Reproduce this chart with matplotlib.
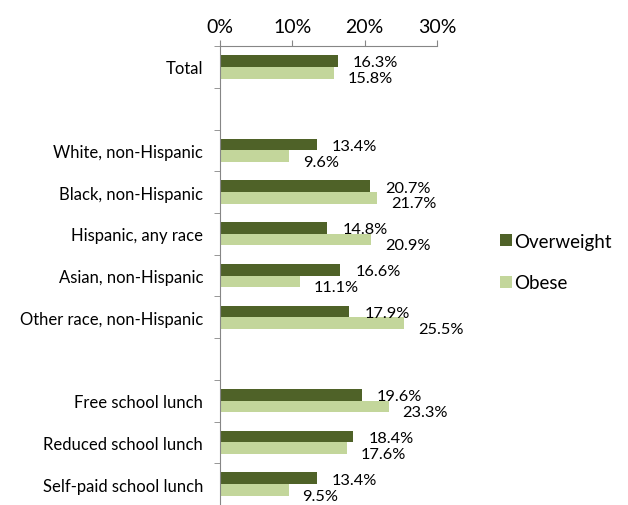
import matplotlib.pyplot as plt
import numpy as np
from matplotlib.ticker import FuncFormatter

# groups from top to bottom, empty strings are spacer rows
categories = ['Total', '', 'White, non-Hispanic', 'Black, non-Hispanic',
              'Hispanic, any race', 'Asian, non-Hispanic',
              'Other race, non-Hispanic', '', 'Free school lunch',
              'Reduced school lunch', 'Self-paid school lunch']
overweight = [16.3, None, 13.4, 20.7, 14.8, 16.6, 17.9, None, 19.6, 18.4, 13.4]
obese = [15.8, None, 9.6, 21.7, 20.9, 11.1, 25.5, None, 23.3, 17.6, 9.5]
x_ticks = [0, 10, 20, 30]

dark = '#4F6228'
light = '#C3D69B'
grey = '#868686'
plt.rcParams['font.family'] = ['Lato', 'DejaVu Sans']

fig = plt.figure(figsize=(6.28, 5.06), dpi=100)
ax = fig.add_axes([0.350, 0.0, 0.346, 0.907])

y = np.arange(len(categories))
h = 0.28
for i in range(len(categories)):
    if overweight[i] is None:
        continue
    ax.barh(y[i] - h / 2, overweight[i], height=h, color=dark,
            label='Overweight' if i == 0 else None)
    ax.barh(y[i] + h / 2, obese[i], height=h, color=light,
            label='Obese' if i == 0 else None)
    ax.annotate(f'{overweight[i]:.1f}%', (overweight[i], y[i] - h / 2),
                xytext=(11, -1), textcoords='offset points',
                ha='left', va='center', fontsize=11.8)
    ax.annotate(f'{obese[i]:.1f}%', (obese[i], y[i] + h / 2),
                xytext=(10, -4), textcoords='offset points',
                ha='left', va='center', fontsize=11.8)

ax.set_xlim(0, 30)
ax.set_ylim(len(categories) - 0.5, -0.5)
ax.set_xticks(x_ticks)
ax.xaxis.set_major_formatter(FuncFormatter(lambda v, p: f'{v:.0f}%'))
ax.xaxis.tick_top()
ax.tick_params(axis='x', direction='out', length=4, color=grey,
               labelsize=14, pad=4)

ax.set_yticks(y)
ax.set_yticklabels(categories)
ax.set_yticks(np.arange(-0.5, len(categories), 1), minor=True)
ax.tick_params(axis='y', which='major', length=0, labelsize=12, pad=12)
ax.tick_params(axis='y', which='minor', direction='out', length=4, color=grey)

for side in ['right', 'bottom']:
    ax.spines[side].set_visible(False)
ax.spines['top'].set_color(grey)
ax.spines['left'].set_color(grey)

handles, labels = ax.get_legend_handles_labels()
fig.legend(handles, labels, loc='center left', bbox_to_anchor=(0.77, 0.48),
           frameon=False, fontsize=13.5, handlelength=0.6, handleheight=0.6,
           handletextpad=0.15, labelspacing=1.3)

fig.savefig('out.png', dpi=100)
